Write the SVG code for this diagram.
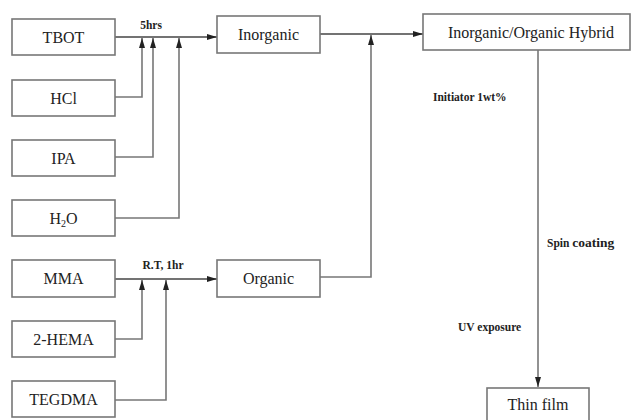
<svg xmlns="http://www.w3.org/2000/svg" width="632" height="420" viewBox="0 0 632 420">
<style>
.box{fill:#fff;stroke:#777;stroke-width:1.6}
.lbl{font-family:'Liberation Serif','Times New Roman','DejaVu Serif',serif;font-size:16px;fill:#222;text-anchor:middle}
.cond{font-family:'Liberation Serif','Times New Roman','DejaVu Serif',serif;font-size:11.5px;font-weight:bold;fill:#222}
.ln{fill:none;stroke:#444;stroke-width:1.4}
.lv{fill:none;stroke:#777;stroke-width:1.6}
</style>
<defs>
<marker id="ah" viewBox="0 0 10 6" refX="10" refY="3" markerWidth="10" markerHeight="6" markerUnits="userSpaceOnUse" orient="auto">
<path d="M0,0L10,3L0,6z" fill="#222"/>
</marker>
</defs>
<rect width="632" height="420" fill="#fff"/>
<g id="connectors">
<line class="ln" x1="115" y1="37" x2="217" y2="37" marker-end="url(#ah)"/>
<polyline class="lv" points="115,97 142,97 142,38" marker-end="url(#ah)"/>
<polyline class="lv" points="115,157 153,157 153,38" marker-end="url(#ah)"/>
<polyline class="lv" points="115,218 179,218 179,38" marker-end="url(#ah)"/>
<line class="ln" x1="115" y1="279" x2="217" y2="279" marker-end="url(#ah)"/>
<polyline class="lv" points="115,339 142,339 142,280" marker-end="url(#ah)"/>
<polyline class="lv" points="115,400 166,400 166,280" marker-end="url(#ah)"/>
<line class="ln" x1="320" y1="34" x2="423" y2="34" marker-end="url(#ah)"/>
<polyline class="lv" points="320,277 371,277 371,35" marker-end="url(#ah)"/>
<line class="lv" x1="538" y1="50" x2="538" y2="387" marker-end="url(#ah)"/>
<text class="cond" x="151" y="29" text-anchor="middle">5hrs</text>
<text class="cond" x="163" y="269" text-anchor="middle">R.T, 1hr</text>
<text class="cond" x="433" y="101">Initiator 1wt%</text>
<text class="cond" x="547" y="247">Spin <tspan font-size="13.5">coating</tspan></text>
<text class="cond" x="458" y="331">UV exposure</text>
</g>
<g id="TBOT"><rect class="box" x="12" y="19" width="103" height="36"/><text class="lbl" x="63.5" y="42.5">TBOT</text></g>
<g id="HCl"><rect class="box" x="12" y="80" width="103" height="36"/><text class="lbl" x="63.5" y="103.5">HCl</text></g>
<g id="IPA"><rect class="box" x="12" y="140" width="103" height="36"/><text class="lbl" x="63.5" y="163.5">IPA</text></g>
<g id="H2O"><rect class="box" x="12" y="200" width="103" height="36"/><text class="lbl" x="63.5" y="223.5">H<tspan font-size="10" dy="3">2</tspan><tspan dy="-3">O</tspan></text></g>
<g id="MMA"><rect class="box" x="12" y="260" width="103" height="37"/><text class="lbl" x="63.5" y="284">MMA</text></g>
<g id="HEMA"><rect class="box" x="12" y="321" width="103" height="36"/><text class="lbl" x="63.5" y="344.5">2-HEMA</text></g>
<g id="TEGDMA"><rect class="box" x="12" y="381" width="103" height="36"/><text class="lbl" x="63.5" y="404.5">TEGDMA</text></g>
<g id="Inorganic"><rect class="box" x="217" y="16" width="103" height="37"/><text class="lbl" x="268.5" y="40">Inorganic</text></g>
<g id="Organic"><rect class="box" x="217" y="260" width="103" height="37"/><text class="lbl" x="268.5" y="284">Organic</text></g>
<g id="Hybrid"><rect class="box" x="423" y="14" width="207" height="36"/><text class="lbl" x="531" y="37.5">Inorganic/Organic Hybrid</text></g>
<g id="ThinFilm"><rect class="box" x="487" y="388" width="102" height="40"/><text class="lbl" x="538" y="410">Thin film</text></g>
</svg>
